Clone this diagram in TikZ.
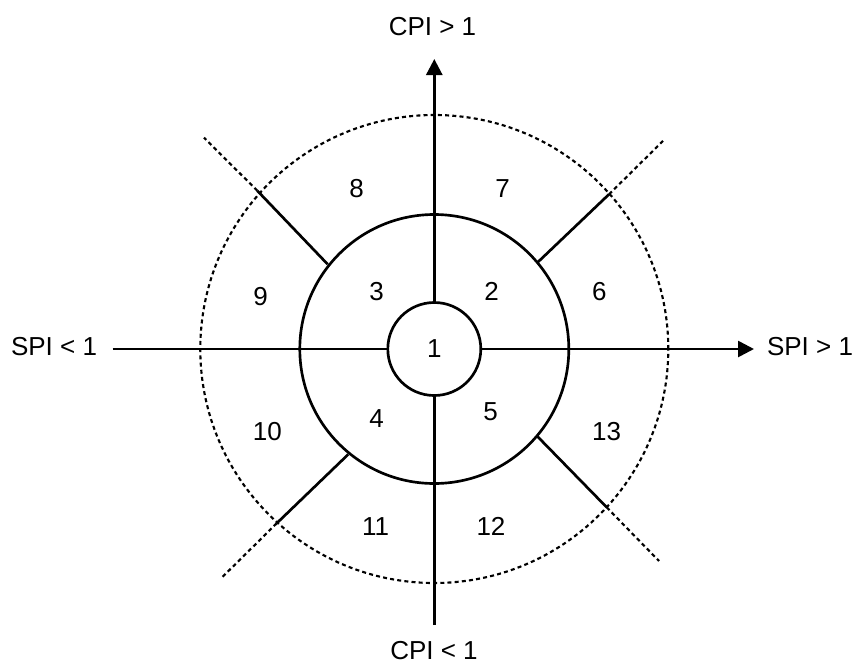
\documentclass[tikz,border=0pt]{standalone}
\usepackage{fontspec}
\setmainfont{Liberation Sans}
\usetikzlibrary{arrows.meta,positioning}
\definecolor{qdark}{HTML}{000000}

\tikzset{
  ring/.style={circle,draw=qdark,line width=2pt,inner sep=0pt},
  axisline/.style={draw=qdark,line width=2pt,-{Triangle[length=12pt,width=12pt]}},
  splitline/.style={draw=qdark,line width=2pt},
  guideline/.style={draw=qdark,line width=1.6pt,dash pattern=on 3pt off 2.4pt},
  zonelabel/.style={font=\fontsize{19.5}{23}\selectfont,text=qdark,inner sep=1pt},
}

\begin{document}
\begin{tikzpicture}[x=0.75pt,y=-0.75pt]
\useasboundingbox (0,0) rectangle (858,665);
\coordinate (c) at (434.3,349);
% rings
\node[ring,guideline,minimum size=351pt] (outer) at (c) {};
\node[ring,minimum size=201.75pt] (middle) at (c) {};
% axes
\node[zonelabel] (cpiup) at (432.5,27) {CPI > 1};
\node[zonelabel] (cpidown) at (434,651) {CPI < 1};
\node[zonelabel] (spileft) at (54,347) {SPI < 1};
\node[zonelabel] (spiright) at (810,347) {SPI > 1};
\coordinate (ytop) at (434.3,59);
\coordinate (ybot) at (434.3,625);
\coordinate (xleft) at (112.7,349);
\coordinate (xright) at (754,349);
\draw[axisline] (ybot) -- (ytop);
\draw[axisline] (xleft) -- (xright);
% diagonals: inner/outer/end
\foreach \d/\ax/\ay/\bx/\by/\ex/\ey in {
  ul/327.7/264.3/257.3/190.7/204/137.7,
  ur/537.7/262.3/609/194.3/665/139,
  ll/348.3/454.3/276.7/523.3/221.7/577.7,
  lr/537.7/436.7/606.7/507.3/659/561} {
  \coordinate (\d a) at (\ax,\ay);
  \coordinate (\d b) at (\bx,\by);
  \coordinate (\d e) at (\ex,\ey);
  \draw[splitline] (\d a) -- (\d b);
  \draw[guideline] (\d b) -- (\d e);
}
\node[ring,fill=white,minimum size=69.75pt,zonelabel] (core) at (c) {1};
% zone numbers
\foreach \n/\px/\py in {2/491.7/291.7, 3/376.7/291.7, 4/376.7/418.3, 5/490.7/411.7,
  6/599.3/291.7, 7/502.7/188.3, 8/356.7/188.3, 9/260.7/296.7,
  10/267.3/431.7, 11/375.7/526.7, 12/491/526.7, 13/606.7/431.7} {
  \node[zonelabel] (z\n) at (\px,\py) {\n};
}
\end{tikzpicture}
\end{document}
